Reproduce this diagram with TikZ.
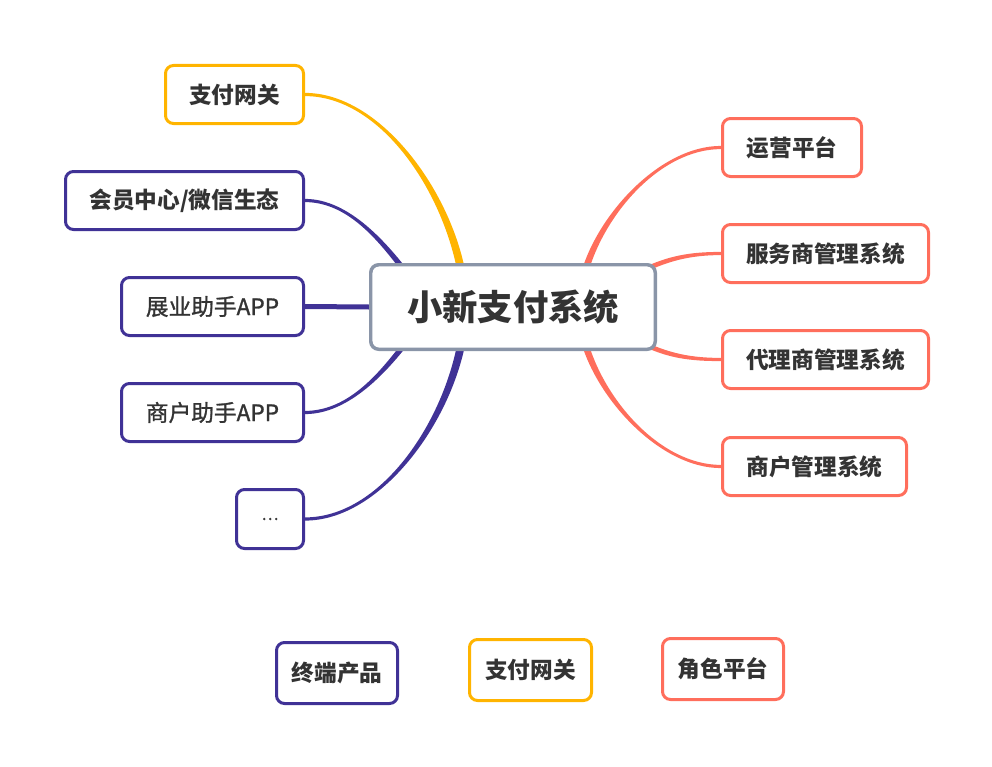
\documentclass[tikz,border=0pt]{standalone}
\usepackage{fontspec}
\newfontfamily\cjk{Noto Sans CJK SC}
\newfontfamily\cjkmed{Noto Sans CJK SC}[FakeBold=1.2]
\usetikzlibrary{calc,backgrounds}
\definecolor{pur}{RGB}{64,50,150}
\definecolor{yel}{RGB}{255,180,0}
\definecolor{cor}{RGB}{255,110,92}
\definecolor{gry}{RGB}{138,149,168}
\definecolor{txt}{RGB}{51,51,51}
% tapered connector: #1 colour, #2 child anchor, #3 #4 controls, #5 end, #6 half-width offset at end
\newcommand\conn[6]{%
  \fill[#1] ($(#2)+(0,-1.6)$) .. controls ($(#3)+(0,-1.6)$) and ($(#4)+(#6)$) .. ($(#5)+(#6)$)
    -- ($(#5)-(#6)$) .. controls ($(#4)-(#6)$) and ($(#3)+(0,1.6)$) .. ($(#2)+(0,1.6)$) -- cycle;}
\begin{document}
\begin{tikzpicture}[x=0.75pt,y=-0.75pt,
  box/.style={draw, line width=2.25pt, fill=white, rounded corners=6pt, text=txt,
    font=\cjk\bfseries\fontsize{17pt}{20pt}\selectfont, inner sep=0pt, minimum height=43.5pt},
  lightbox/.style={box, font=\cjkmed\fontsize{17pt}{20pt}\selectfont},
  rootbox/.style={draw=gry, line width=2.6pt, fill=white, rounded corners=6pt, text=txt,
    font=\cjk\bfseries\fontsize{26.5pt}{30pt}\selectfont, inner sep=0pt,
    minimum width=213.4pt, minimum height=63.4pt}]
\useasboundingbox (0,0) rectangle (992,767);
% nodes
\node[rootbox] (root) at (513,307) {小新支付系统};
\node[box, draw=yel, minimum width=103.5pt] (pay) at (234.5,94.5) {支付网关};
\node[box, draw=pur, minimum width=178.5pt] (mem) at (184.5,200.5) {会员中心/微信生态};
\node[lightbox, draw=pur, minimum width=136.5pt] (zy) at (212.5,306.5) {展业助手APP};
\node[lightbox, draw=pur, minimum width=136.5pt] (sa) at (212.5,412.5) {商户助手APP};
\node[lightbox, draw=pur, minimum width=50.25pt, minimum height=44.25pt,
  font=\cjkmed\fontsize{12pt}{14pt}\selectfont] (dt) at (270,519) {…};
\node[box, draw=cor, minimum width=104.25pt] (yy) at (792,147.5) {运营平台};
\node[box, draw=cor, minimum width=154.5pt] (fw) at (825.5,253.5) {服务商管理系统};
\node[box, draw=cor, minimum width=154.5pt] (dl) at (825.5,359.5) {代理商管理系统};
\node[box, draw=cor, minimum width=138pt] (sm) at (814.5,466.5) {商户管理系统};
% legend
\node[box, draw=pur, minimum width=90.75pt, minimum height=45.75pt] (lg1) at (337,673) {终端产品};
\node[box, draw=yel, minimum width=91.5pt, minimum height=45.75pt] (lg2) at (530.5,670) {支付网关};
\node[box, draw=cor, minimum width=90.75pt, minimum height=45.75pt] (lg3) at (723,669) {角色平台};
% connectors
\begin{pgfonlayer}{background}
\coordinate (yA) at ($(pay.east)+(75,0)$);
\coordinate (yB) at (447,190);
\coordinate (yE) at (462,275);
\conn{yel}{pay.east}{yA}{yB}{yE}{4,0}
\coordinate (mA) at ($(mem.east)+(45,0)$);
\coordinate (mB) at (385,245);
\coordinate (mE) at (408,275);
\conn{pur}{mem.east}{mA}{mB}{mE}{3.5,0}
\draw[pur, line width=3.75pt] (zy.east) -- (root.west);
\coordinate (sA) at ($(sa.east)+(45,0)$);
\coordinate (sB) at (385,370);
\coordinate (sE) at (408,340);
\conn{pur}{sa.east}{sA}{sB}{sE}{-3.5,0}
\coordinate (dA) at ($(dt.east)+(75,0)$);
\coordinate (dB) at (447,424);
\coordinate (dE) at (462,340);
\conn{pur}{dt.east}{dA}{dB}{dE}{-4,0}
\coordinate (rA) at ($(yy.west)+(-61,0)$);
\coordinate (rB) at (600,215);
\coordinate (rE) at (584,275);
\conn{cor}{yy.west}{rA}{rB}{rE}{-3.5,0}
\coordinate (fA) at ($(fw.west)+(-30,0)$);
\coordinate (fB) at (668,258);
\coordinate (fE) at (640,272);
\conn{cor}{fw.west}{fA}{fB}{fE}{0,-2.6}
\coordinate (gA) at ($(dl.west)+(-30,0)$);
\coordinate (gB) at (668,356);
\coordinate (gE) at (640,342);
\conn{cor}{dl.west}{gA}{gB}{gE}{0,-2.6}
\coordinate (hA) at ($(sm.west)+(-61,0)$);
\coordinate (hB) at (600,399);
\coordinate (hE) at (584,340);
\conn{cor}{sm.west}{hA}{hB}{hE}{3.5,0}
\end{pgfonlayer}
\end{tikzpicture}
\end{document}
